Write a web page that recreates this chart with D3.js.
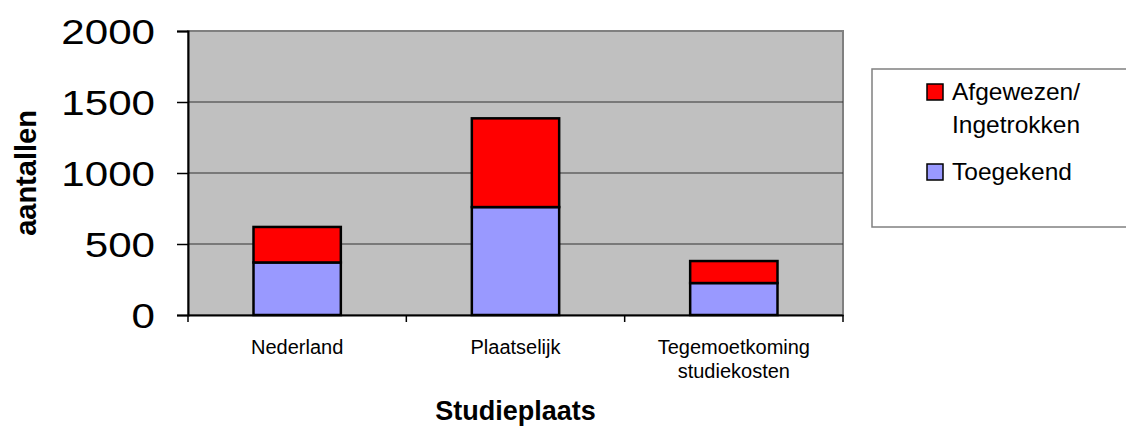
<!DOCTYPE html>
<html>
<head>
<meta charset="utf-8">
<script src="https://cdn.jsdelivr.net/npm/d3@7"></script>
<style>
  html, body { margin: 0; padding: 0; background: #fff; }
  svg { display: block; font-family: "Liberation Sans", Arial, sans-serif; }
</style>
</head>
<body>
<svg id="chart" width="1126" height="438"></svg>
<script>
const categories = ["Nederland", "Plaatselijk", "Tegemoetkoming studiekosten"];
const toegekend = [370, 760, 225];
const afgewezen = [250, 625, 155];
const seriesNames = ["Toegekend", "Afgewezen/ Ingetrokken"];
const seriesColors = ["#9999FF", "#FF0000"];
const yTicks = [0, 500, 1000, 1500, 2000];

const svg = d3.select("#chart");
const plot = { left: 188, right: 843, top: 31, bottom: 315 };

const x = d3.scaleBand().domain(categories).range([plot.left, plot.right]).paddingInner(0).paddingOuter(0);
const y = d3.scaleLinear().domain([0, 2000]).range([plot.bottom, plot.top]);

// plot background
svg.append("rect")
  .attr("x", plot.left).attr("y", plot.top)
  .attr("width", plot.right - plot.left).attr("height", plot.bottom - plot.top)
  .attr("fill", "#C0C0C0").attr("stroke", "#808080").attr("stroke-width", 2);

// gridlines
svg.append("g").selectAll("line")
  .data(yTicks.filter(d => d > 0 && d < 2000))
  .join("line")
  .attr("x1", plot.left).attr("x2", plot.right)
  .attr("y1", d => y(d)).attr("y2", d => y(d))
  .attr("stroke", "#333").attr("stroke-width", 1.2);

// stacked bars
const table = categories.map((c, i) => ({ cat: c, Toegekend: toegekend[i], Afgewezen: afgewezen[i] }));
const stack = d3.stack().keys(["Toegekend", "Afgewezen"])(table);
const bw = x.bandwidth() * 0.4;
svg.append("g").selectAll("g")
  .data(stack).join("g")
  .attr("fill", (d, i) => seriesColors[i])
  .selectAll("rect")
  .data(d => d).join("rect")
  .attr("x", d => x(d.data.cat) + (x.bandwidth() - bw) / 2)
  .attr("width", bw)
  .attr("y", d => y(d[1]))
  .attr("height", d => y(d[0]) - y(d[1]))
  .attr("stroke", "#000").attr("stroke-width", 2.5);

// y axis
const yAxis = d3.axisLeft(y).tickValues(yTicks).tickSize(11).tickPadding(20).tickFormat(d3.format("d"));
const gy = svg.append("g").attr("transform", `translate(${plot.left},0)`).call(yAxis);
gy.select(".domain").attr("stroke", "#000").attr("stroke-width", 2);
gy.selectAll(".tick line").attr("stroke", "#000").attr("stroke-width", 1.5);
gy.selectAll(".tick text")
  .attr("font-size", 36).attr("fill", "#000")
  .attr("font-family", "'Liberation Sans', Arial, sans-serif")
  .attr("x", null).attr("dy", "0.36em")
  .attr("transform", "translate(-33,0) scale(1.17,1)");

// x axis
const xAxis = d3.axisBottom(x).tickSize(0).tickFormat("");
const gx = svg.append("g").attr("transform", `translate(0,${plot.bottom})`).call(xAxis);
gx.select(".domain").attr("stroke", "#000").attr("stroke-width", 2);
gx.selectAll(".tick").remove();
// category boundary ticks
const bounds = categories.map(c => x(c)).concat([x.range()[1]]);
svg.append("g").selectAll("line").data(bounds).join("line")
  .attr("x1", d => d).attr("x2", d => d)
  .attr("y1", plot.bottom).attr("y2", plot.bottom + 7)
  .attr("stroke", "#000").attr("stroke-width", 1.5);

// category labels (wrapped like the original)
const labelLines = { "Tegemoetkoming studiekosten": ["Tegemoetkoming", "studiekosten"] };
svg.append("g").selectAll("text").data(categories).join("text")
  .attr("x", d => x(d) + x.bandwidth() / 2)
  .attr("y", 354)
  .attr("text-anchor", "middle")
  .attr("font-size", 20)
  .attr("fill", "#000")
  .each(function (d) {
    const lines = labelLines[d] || [d];
    d3.select(this).selectAll("tspan").data(lines).join("tspan")
      .attr("x", x(d) + x.bandwidth() / 2)
      .attr("dy", (l, i) => i === 0 ? 0 : 24)
      .text(l => l);
  });

// axis titles
svg.append("text")
  .attr("x", (plot.left + plot.right) / 2).attr("y", 420)
  .attr("text-anchor", "middle").attr("font-size", 27).attr("font-weight", "bold")
  .text("Studieplaats");

svg.append("text")
  .attr("transform", `translate(36,${(plot.top + plot.bottom) / 2}) rotate(-90)`)
  .attr("text-anchor", "middle").attr("font-size", 29).attr("font-weight", "bold")
  .text("aantallen");

// legend
const lg = svg.append("g");
lg.append("rect").attr("x", 872).attr("y", 69).attr("width", 260).attr("height", 158)
  .attr("fill", "#fff").attr("stroke", "#808080").attr("stroke-width", 1.5);
const legendItems = [
  { lines: ["Afgewezen/", "Ingetrokken"], color: seriesColors[1], y: 84 },
  { lines: ["Toegekend"], color: seriesColors[0], y: 164 }
];
legendItems.forEach(it => {
  lg.append("rect").attr("x", 927).attr("y", it.y).attr("width", 16).attr("height", 16)
    .attr("fill", it.color).attr("stroke", "#000").attr("stroke-width", 1.5);
  const t = lg.append("text").attr("x", 952).attr("y", it.y + 16).attr("font-size", 24.5).attr("fill", "#000");
  it.lines.forEach((l, i) => t.append("tspan").attr("x", 952).attr("dy", i === 0 ? 0 : 33).text(l));
});
</script>
</body>
</html>
